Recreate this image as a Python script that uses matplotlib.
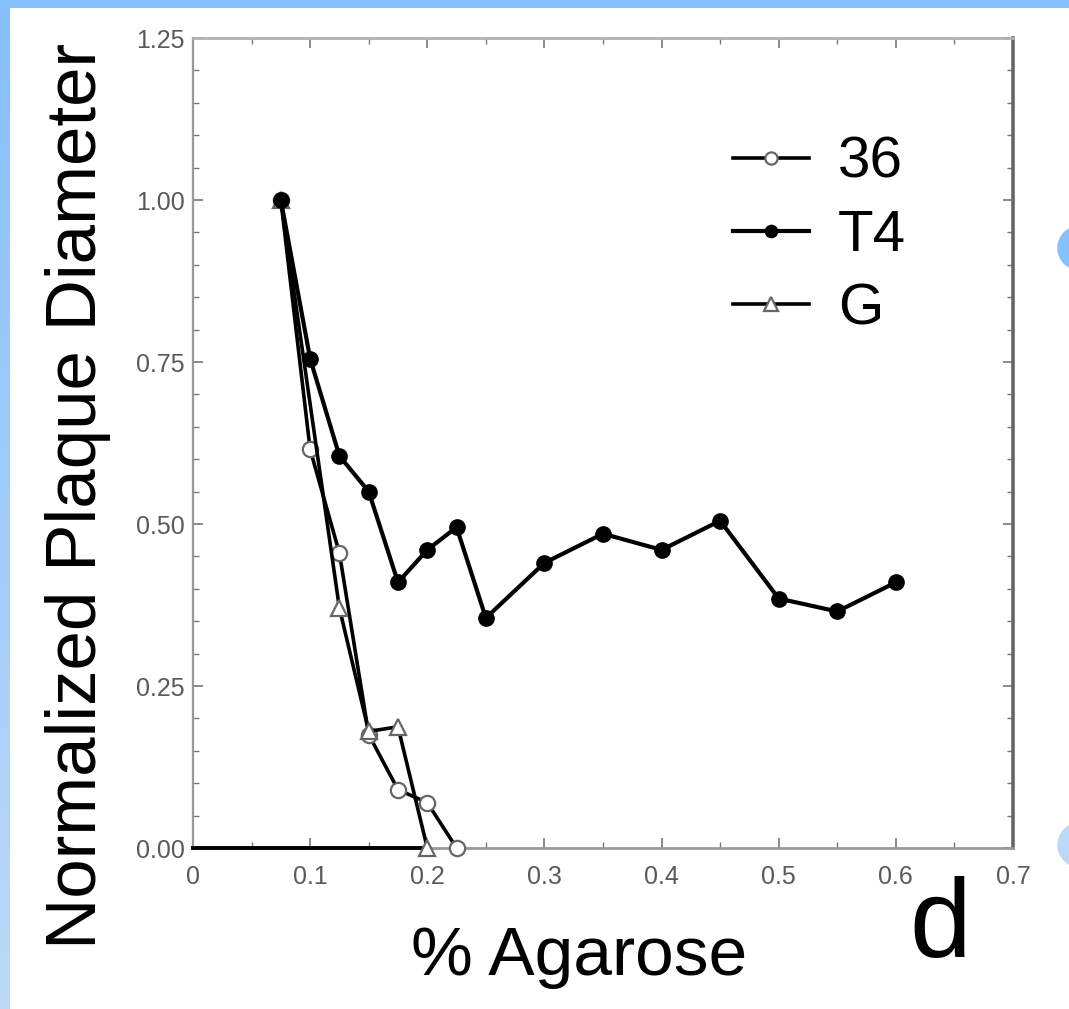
import matplotlib
matplotlib.use('Agg')
import matplotlib.pyplot as plt
from matplotlib.ticker import MultipleLocator
from matplotlib.patches import Rectangle, Ellipse
from matplotlib.colors import LinearSegmentedColormap
import numpy as np

# ---------------- data ----------------
x_36 = [0.075, 0.1, 0.125, 0.15, 0.175, 0.2, 0.225]
y_36 = [1.00, 0.615, 0.455, 0.175, 0.09, 0.07, 0.0]

x_T4 = [0.075, 0.1, 0.125, 0.15, 0.175, 0.2, 0.225, 0.25, 0.3, 0.35, 0.4, 0.45, 0.5, 0.55, 0.6]
y_T4 = [1.00, 0.755, 0.605, 0.55, 0.41, 0.46, 0.495, 0.355, 0.44, 0.485, 0.46, 0.505, 0.385, 0.365, 0.41]

x_G = [0.075, 0.125, 0.15, 0.175, 0.2]
y_G = [1.00, 0.37, 0.18, 0.187, 0.0]

baseline_x = [0.0, 0.2]
baseline_y = [0.0, 0.0]

series_labels = ["36", "T4", "G"]
x_ticks = [0, 0.1, 0.2, 0.3, 0.4, 0.5, 0.6, 0.7]
x_ticklabels = ["0", "0.1", "0.2", "0.3", "0.4", "0.5", "0.6", "0.7"]
y_ticks = [0.0, 0.25, 0.5, 0.75, 1.0, 1.25]
y_ticklabels = ["0.00", "0.25", "0.50", "0.75", "1.00", "1.25"]

plt.rcParams['font.family'] = ['Liberation Sans', 'DejaVu Sans']

W, H = 1069, 1009
fig = plt.figure(figsize=(W / 100, H / 100), dpi=100)
fig.patch.set_facecolor('white')

# decorative slide border
top_ax = fig.add_axes([0, 1 - 8 / H, 1, 8 / H])
top_ax.axis('off')
top_ax.add_patch(Rectangle((0, 0), 1, 1, color='#86C0FF', transform=top_ax.transAxes))
left_ax = fig.add_axes([0, 0, 10 / W, 1])
left_ax.axis('off')
grad = np.linspace(0, 1, 256).reshape(-1, 1)
cmap = LinearSegmentedColormap.from_list('b', ['#86C0FF', '#BCD9F7'])
left_ax.imshow(grad, aspect='auto', cmap=cmap, extent=[0, 1, 0, 1], origin='upper')
fig.add_artist(Ellipse((1080 / W, 1 - 248 / H), 44 / W, 44 / H, color='#86C0FF',
                       transform=fig.transFigure))
fig.add_artist(Ellipse((1080 / W, 1 - 845 / H), 44 / W, 44 / H, color='#BCD9F7',
                       transform=fig.transFigure))

ax = fig.add_axes([193 / W, 1 - 848 / H, (1013 - 193) / W, (848 - 38) / H])

ax.plot(baseline_x, baseline_y, color='black', lw=2.8, zorder=3, clip_on=False)

ax.plot(x_36, y_36, color='black', lw=2.6, marker='o', markersize=11,
        markerfacecolor='white', markeredgecolor='#666666', markeredgewidth=1.6,
        label=series_labels[0], zorder=4, clip_on=False)
ax.plot(x_T4, y_T4, color='black', lw=3.0, marker='o', markersize=11,
        markerfacecolor='black', markeredgecolor='black',
        label=series_labels[1], zorder=5, clip_on=False)
ax.plot(x_G, y_G, color='black', lw=2.6, marker='^', markersize=12,
        markerfacecolor='white', markeredgecolor='#666666', markeredgewidth=1.6,
        label=series_labels[2], zorder=4, clip_on=False)

ax.set_xlim(0, 0.7)
ax.set_ylim(0, 1.25)
ax.set_xticks(x_ticks)
ax.set_xticklabels(x_ticklabels)
ax.set_yticks(y_ticks)
ax.set_yticklabels(y_ticklabels)
ax.xaxis.set_minor_locator(MultipleLocator(0.05))
ax.yaxis.set_minor_locator(MultipleLocator(0.05))
ax.tick_params(which='both', direction='in', top=True, right=True, color='#777777')
ax.tick_params(which='major', length=7, width=1.2, labelsize=18, labelcolor='#5a5a5a')
ax.tick_params(which='minor', length=4, width=1.0)
ax.tick_params(axis='x', which='major', pad=12)
ax.tick_params(axis='y', which='major', pad=6)

ax.spines['left'].set_color('#999999')
ax.spines['left'].set_linewidth(1.6)
ax.spines['bottom'].set_color('#999999')
ax.spines['bottom'].set_linewidth(2.0)
ax.spines['top'].set_color('#b0b0b0')
ax.spines['top'].set_linewidth(2.0)
ax.spines['right'].set_color('#666666')
ax.spines['right'].set_linewidth(2.6)

leg = ax.legend(loc='upper left', bbox_to_anchor=(733 / W, 1 - 136 / H),
                bbox_transform=fig.transFigure, frameon=False, fontsize=42,
                handlelength=1.3, handletextpad=0.5, labelspacing=0.33,
                borderpad=0, borderaxespad=0, markerscale=0.8)

fig.text(78 / W, 1 - 496 / H, "Normalized Plaque Diameter", rotation=90,
         ha='center', va='center', fontsize=51, color='black')
fig.text(579 / W, 1 - 975 / H, "% Agarose", ha='center', va='baseline',
         fontsize=50, color='black')
fig.text(940 / W, 1 - 957 / H, "d", ha='center', va='baseline',
         fontsize=80, color='black')

fig.savefig('out.png', dpi=100, facecolor='white')
